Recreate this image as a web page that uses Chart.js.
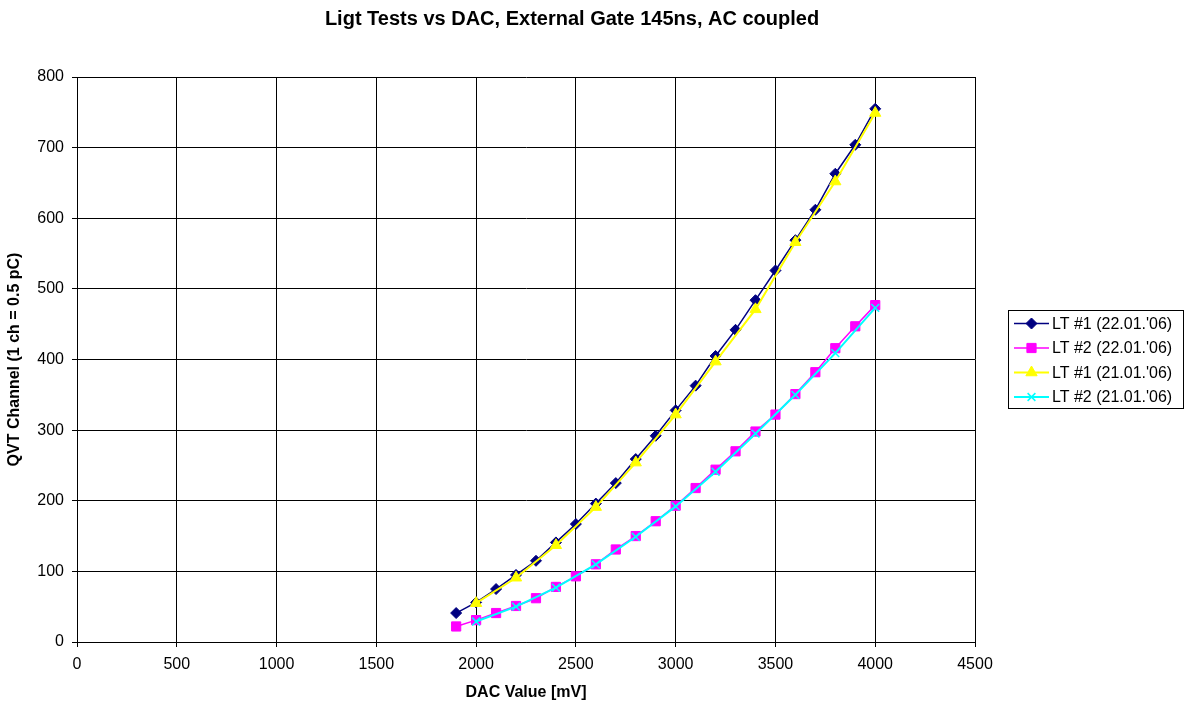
<!DOCTYPE html>
<html>
<head>
<meta charset="utf-8">
<script src="https://cdn.jsdelivr.net/npm/chart.js@4"></script>
<style>
    html, body { margin: 0; padding: 0; background: #ffffff; }
    #box { width: 1188px; height: 704px; }
</style>
</head>
<body>
<div id="box"><canvas id="graph"></canvas></div>
<script>
const chart_title = 'Ligt Tests vs DAC, External Gate 145ns, AC coupled';
const x_title = 'DAC Value [mV]';
const y_title = 'QVT Channel (1 ch = 0.5 pC)';

const series_names = ["LT #1 (22.01.'06)", "LT #2 (22.01.'06)", "LT #1 (21.01.'06)", "LT #2 (21.01.'06)"];

// DAC steps of the 22.01 runs and the 21.01 runs
const dac_22 = [1900, 2000, 2100, 2200, 2300, 2400, 2500, 2600, 2700, 2800, 2900,
                3000, 3100, 3200, 3300, 3400, 3500, 3600, 3700, 3800, 3900, 4000];
const dac_21 = [2000, 2200, 2400, 2600, 2800, 3000, 3200, 3400, 3600, 3800, 4000];

const lt1_22 = [41, 56, 75, 95, 115, 141, 167, 196, 225, 259, 292,
                328, 363, 405, 442, 484, 526, 569, 612, 663, 704, 755];
const lt2_22 = [22, 31, 41, 51, 62, 78, 93, 110, 131, 150, 171,
                193, 218, 244, 270, 298, 322, 351, 382, 416, 447, 477];
const lt1_21 = [55, 91, 137, 191, 254, 322, 397, 471, 566, 652, 749];
const lt2_21 = [29, 50, 77, 110, 149, 192, 241, 295, 350, 409, 473];

function to_points(x_arr, y_arr) {
    let points = [];
    for (let i = 0; i < x_arr.length; ++i) {
        points.push({ x: x_arr[i], y: y_arr[i] });
    }
    return points;
}

const font_name = '"Liberation Sans", Arial, sans-serif';

// title drawn by hand so it can sit where Excel put it
const title_plugin = {
    id: 'title_plugin',
    afterDraw(c) {
        const ctx = c.ctx;
        ctx.save();
        ctx.font = 'bold 20px ' + font_name;
        ctx.fillStyle = '#000000';
        ctx.textAlign = 'center';
        ctx.textBaseline = 'middle';
        ctx.fillText(chart_title, 572, 19);
        ctx.restore();
    }
};

// boxed legend on the right with line + marker samples
const legend_plugin = {
    id: 'legend_plugin',
    afterDraw(c) {
        const ctx = c.ctx;
        const left = 1008, top = 310, width = 175, height = 98;
        ctx.save();
        ctx.strokeStyle = '#000000';
        ctx.lineWidth = 1;
        ctx.strokeRect(left + 0.5, top + 0.5, width, height);
        ctx.font = '16px ' + font_name;
        ctx.textBaseline = 'middle';
        ctx.textAlign = 'left';
        c.data.datasets.forEach(function (ds, i) {
            const y = top + 13.5 + i * 24.5;
            ctx.strokeStyle = ds.borderColor;
            ctx.lineWidth = ds.borderWidth;
            ctx.beginPath();
            ctx.moveTo(left + 6, y);
            ctx.lineTo(left + 41, y);
            ctx.stroke();
            ctx.fillStyle = ds.pointBackgroundColor;
            ctx.strokeStyle = ds.pointBorderColor;
            ctx.lineWidth = ds.pointBorderWidth;
            Chart.helpers.drawPoint(ctx, {
                pointStyle: ds.pointStyle,
                radius: ds.pointRadius,
                borderWidth: ds.pointBorderWidth
            }, left + 23.5, y);
            ctx.fillStyle = '#000000';
            ctx.fillText(series_names[i], left + 44, y + 1);
        });
        ctx.restore();
    }
};

function make_dataset(name, x_arr, y_arr, color, style, radius, width, order) {
    return {
        label: name,
        data: to_points(x_arr, y_arr),
        showLine: true,
        borderColor: color,
        backgroundColor: color,
        borderWidth: width,
        pointStyle: style,
        pointRadius: radius,
        pointHoverRadius: radius,
        pointBackgroundColor: color,
        pointBorderColor: color,
        pointBorderWidth: 1,
        order: order
    };
}

const datasets = [
    make_dataset(series_names[0], dac_22, lt1_22, '#000080', 'rectRot', 5.5, 1.5, 3),
    make_dataset(series_names[1], dac_22, lt2_22, '#ff00ff', 'rect', 6.5, 1.5, 2),
    make_dataset(series_names[2], dac_21, lt1_21, '#ffff00', 'triangle', 6.5, 2, 1),
    make_dataset(series_names[3], dac_21, lt2_21, '#00ffff', 'crossRot', 5.5, 2, 0)
];
datasets[3].pointBorderWidth = 1.5;

const axis_font = { family: font_name, size: 16 };
const axis_title_font = { family: font_name, size: 16, weight: 'bold', lineHeight: 1.2 };

Chart.defaults.color = '#000000';

new Chart(document.getElementById('graph'), {
    type: 'scatter',
    data: { datasets: datasets },
    options: {
        responsive: true,
        maintainAspectRatio: false,
        animation: false,
        layout: { padding: { top: 77, right: 213, left: 0, bottom: 0 } },
        plugins: {
            legend: { display: false },
            tooltip: { enabled: false }
        },
        scales: {
            x: {
                type: 'linear',
                min: 0,
                max: 4500,
                ticks: {
                    stepSize: 500, font: axis_font, color: '#000000', padding: 8, maxRotation: 0,
                    callback: function (value) { return String(value); }
                },
                grid: { color: '#000000', lineWidth: 1, tickLength: 5, tickColor: '#000000' },
                border: { color: '#000000', width: 1 },
                title: { display: true, text: x_title, font: axis_title_font, color: '#000000', padding: { top: 0, bottom: 1.5 } },
                afterFit(scale) { scale.height = 62; }
            },
            y: {
                min: 0,
                max: 800,
                ticks: {
                    stepSize: 100, font: axis_font, color: '#000000', padding: 8,
                    callback: function (value) { return String(value); }
                },
                grid: { color: '#000000', lineWidth: 1, tickLength: 5, tickColor: '#000000' },
                border: { color: '#000000', width: 1 },
                title: { display: true, text: y_title, font: axis_title_font, color: '#000000', padding: { top: 4.5, bottom: 0 } },
                afterFit(scale) { scale.width = 77; }
            }
        }
    },
    plugins: [title_plugin, legend_plugin]
});
</script>
</body>
</html>
